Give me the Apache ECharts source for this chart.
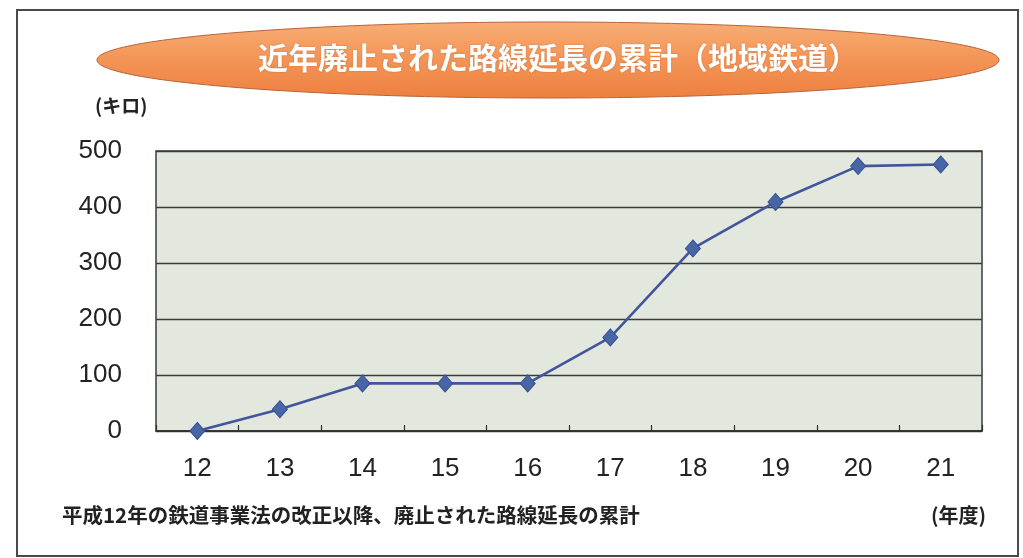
<!DOCTYPE html>
<html>
<head>
<meta charset="utf-8">
<style>
  html, body { margin: 0; padding: 0; background: #ffffff; }
  #chart { width: 1023px; height: 558px; }
</style>
<script src="https://cdn.jsdelivr.net/npm/echarts@6/dist/echarts.min.js"></script>
</head>
<body>
<div id="chart"></div>
<script>
// 年度 (平成) and cumulative abolished route length in km
const years = ['12', '13', '14', '15', '16', '17', '18', '19', '20', '21'];
const cumulativeKm = [0, 39, 85, 85, 85, 167, 326, 409, 473, 476];
const yTicks = [0, 100, 200, 300, 400, 500];

const titleText = '近年廃止された路線延長の累計（地域鉄道）';
const unitText = '(キロ)';
const xUnitText = '(年度)';
const noteText = '平成12年の鉄道事業法の改正以降、廃止された路線延長の累計';

const JP = '"Noto Sans CJK JP", "Noto Sans", sans-serif';
const NUM = '"Liberation Sans", Arial, sans-serif';

const chart = echarts.init(document.getElementById('chart'));
chart.setOption({
  backgroundColor: '#ffffff',
  animation: false,
  grid: {
    left: 156, right: 41, top: 151, bottom: 127,
    show: true,
    backgroundColor: '#e3e8df',
    borderColor: '#3c3c3c',
    borderWidth: 1.5
  },
  xAxis: {
    type: 'category',
    data: years,
    boundaryGap: true,
    axisLine: { lineStyle: { color: '#2e2e2e', width: 1.5 } },
    axisTick: { show: true, inside: true, length: 6, lineStyle: { color: '#2e2e2e', width: 1.2 } },
    axisLabel: { color: '#222', fontFamily: NUM, fontSize: 26, margin: 25 }
  },
  yAxis: {
    type: 'value',
    min: yTicks[0],
    max: yTicks[yTicks.length - 1],
    interval: 100,
    axisLine: { show: false },
    axisTick: { show: false },
    axisLabel: { color: '#222', fontFamily: NUM, fontSize: 26, margin: 34 },
    splitLine: { lineStyle: { color: '#3a3a3a', width: 1.3 } }
  },
  series: [{
    type: 'line',
    data: cumulativeKm,
    symbol: 'diamond',
    symbolSize: [15, 17],
    lineStyle: { color: '#43559a', width: 2.6 },
    itemStyle: { color: '#4766a6', borderColor: '#3a4f8e', borderWidth: 1 },
    z: 5
  }],
  graphic: [
    {
      type: 'rect',
      shape: { x: 17, y: 10, width: 1001, height: 546 },
      style: { fill: 'none', stroke: '#4a4a4a', lineWidth: 2 },
      silent: true, z: 0
    },
    {
      type: 'ellipse',
      shape: { cx: 548, cy: 60, rx: 451, ry: 38 },
      style: {
        fill: new echarts.graphic.LinearGradient(0, 0, 0, 1, [
          { offset: 0, color: '#f8ad74' },
          { offset: 0.5, color: '#f39456' },
          { offset: 1, color: '#ee803e' }
        ]),
        stroke: '#b8643a',
        lineWidth: 1
      },
      silent: true, z: 1
    },
    {
      type: 'text',
      left: 258,
      top: 43,
      style: {
        text: titleText,
        fill: '#ffffff',
        font: 'bold 30px ' + JP,
        textShadowColor: 'rgba(120,50,10,0.35)',
        textShadowBlur: 2
      },
      silent: true, z: 2
    },
    {
      type: 'text',
      left: 95,
      top: 96,
      style: { text: unitText, fill: '#222', font: 'bold 19px ' + JP },
      silent: true, z: 2
    },
    {
      type: 'text',
      left: 62,
      top: 505,
      style: { text: noteText, fill: '#222', font: 'bold 20.5px ' + JP },
      silent: true, z: 2
    },
    {
      type: 'text',
      left: 931,
      top: 505,
      style: { text: xUnitText, fill: '#222', font: 'bold 20px ' + JP },
      silent: true, z: 2
    }
  ]
});
</script>
</body>
</html>
